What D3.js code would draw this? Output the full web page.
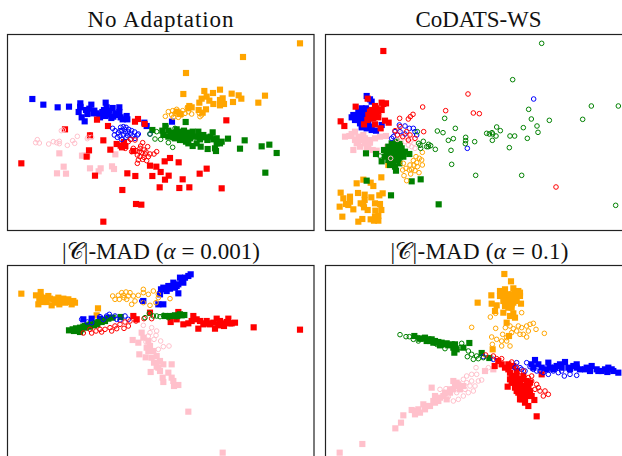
<!DOCTYPE html>
<html>
<head>
<meta charset="utf-8">
<style>
  html, body { margin: 0; padding: 0; background: #fff; overflow: hidden; }
  text { font-family: "Liberation Serif", serif; fill: #111; }
</style>
<script src="https://cdn.jsdelivr.net/npm/d3@7"></script>
</head>
<body>
<svg id="chart" width="622" height="456"></svg>
<script>
// valeurs, une liste par classe et par domaine (s = source, t = target)
const titles = ["No Adaptation", "CoDATS-WS", "|𝒞|-MAD (α = 0.001)", "|𝒞|-MAD (α = 0.1)"];
const classColors = { orange: "#ffa500", pink: "#ffc0cb", blue: "#0000ff", red: "#ff0000", green: "#008000" };

// No Adaptation
const a_blue_s = [[97,297],[130,314],[173,322],[207,320],[241,310],[236,336],[241,322],[245,352],[254,364],[258,330],[262,342],[274,314],[268,326],[283,332],[290,340],[298,346],[307,336],[317,308],[320,322],[316,348],[326,344],[334,354],[338,324],[346,340],[358,322],[352,345],[362,352],[358,336],[380,348],[368,358],[382,358],[433,368],[440,378],[516,365],[241,320],[280,340],[300,352],[312,330],[328,332],[340,350]];
const a_blue_t = [[338,385],[345,392],[343,405],[355,398],[362,382],[370,380],[378,382],[366,392],[376,396],[386,388],[395,392],[404,396],[412,405],[392,402],[382,406],[370,405],[360,408],[352,412],[365,418],[378,412],[392,418],[405,415],[415,402],[450,402],[374,388],[384,396],[360,392],[398,408]];
const a_red_s = [[64,490],[195,388],[291,359],[324,378],[270,406],[310,421],[267,451],[260,470],[331,449],[350,432],[362,437],[372,426],[376,438],[366,442],[405,365],[414,357],[434,372],[679,361],[400,453],[285,527],[382,520],[406,528],[367,570],[408,612],[424,614],[310,665],[450,497],[469,500],[494,484],[510,474],[536,487],[482,516],[457,528],[506,527],[495,539],[548,538],[479,562],[538,564],[568,562],[599,521],[620,506],[665,565]];
const a_red_t = [[428,428],[443,440],[420,445],[432,450],[408,452],[395,455],[425,458],[438,456],[450,462],[470,455],[462,462],[412,465],[420,470],[432,472],[445,470],[415,480],[428,478],[412,490],[440,482],[405,420],[392,418],[376,445],[270,405],[385,425],[422,438],[436,462],[400,445],[418,455]];
const a_pink_s = [[178,460],[246,467],[262,466],[254,467],[346,463],[191,500],[171,520],[198,521],[270,505],[302,505],[296,514],[336,499],[342,507]];
const a_pink_t = [[112,419],[107,428],[118,429],[146,432],[160,425],[170,428],[178,424],[178,431],[184,392],[190,390],[202,436],[218,422],[224,430],[232,409],[262,416],[275,412],[264,412]];
const a_green_s = [[457,390],[557,366],[487,392],[496,378],[490,405],[505,392],[512,405],[520,398],[530,388],[525,415],[540,395],[545,410],[552,392],[560,405],[558,425],[565,398],[570,415],[578,395],[578,438],[585,410],[595,395],[600,418],[602,440],[610,405],[622,420],[623,447],[638,397],[632,410],[645,445],[650,415],[648,453],[660,430],[665,425],[684,416],[734,421],[720,446],[785,439],[808,434],[830,459],[796,518],[540,420],[505,410],[520,412],[535,405],[550,420],[565,430],[590,430],[530,400],[545,400],[555,412],[575,408],[595,410],[615,412],[640,418],[650,430]];
const a_green_t = [[470,395],[450,402],[465,417],[482,418],[498,378],[505,428],[518,442],[525,385],[510,395]];
const a_orange_s = [[900,130],[729,171],[558,219],[550,282],[613,273],[639,279],[660,269],[695,281],[716,286],[724,296],[795,287],[775,308],[699,306],[620,290],[598,308],[628,302],[640,312],[660,316],[668,295],[662,308],[672,312],[605,296],[618,328],[596,330],[608,338],[568,318],[575,322],[565,325],[530,335],[540,342],[660,300]];
const a_orange_t = [[496,349],[505,335],[515,345],[525,340],[530,328],[545,345],[548,332],[555,340],[562,322],[575,342],[600,350],[605,345],[520,352],[535,352],[540,338],[565,335],[518,332],[598,340]];

// CoDATS-WS
const b_red_s = [[190,153],[143,296],[107,320],[62,364],[73,378],[132,373],[165,373],[182,385],[195,362],[206,368],[198,310],[185,308],[190,312],[165,318],[170,325],[155,330],[185,330],[145,345],[160,345],[175,352],[142,360],[160,355],[150,335],[175,335],[170,345],[160,335],[150,355]];
const b_blue_s = [[140,288],[150,298],[125,325],[138,325],[115,335],[95,352],[105,360],[118,350],[130,340],[120,370],[145,368],[125,382],[140,385],[155,390],[168,392],[185,375],[110,345],[100,345],[155,305],[130,360],[130,350],[125,345],[145,335],[115,360],[135,372],[150,380]];
const b_pink_s = [[75,410],[88,408],[105,395],[115,410],[100,450],[110,430],[120,420],[135,430],[140,442],[158,450],[170,452],[150,420],[165,415],[180,410],[198,408],[130,405],[105,420],[202,442],[150,428],[125,412],[95,402],[135,415],[145,440],[120,440],[115,425]];
const b_green_s = [[138,460],[168,462],[185,484],[192,450],[205,440],[215,430],[230,425],[240,432],[245,445],[255,455],[268,462],[240,470],[225,480],[210,470],[200,465],[215,455],[230,450],[240,455],[215,490],[225,500],[228,512],[238,490],[250,470],[205,480],[140,542],[275,544],[302,538],[213,586],[356,613],[228,465],[222,440],[210,495],[235,440],[250,462],[220,470],[235,480],[220,490],[210,460],[200,455],[195,470]];
const b_orange_s = [[184,532],[130,539],[152,548],[160,558],[110,550],[62,578],[70,595],[90,590],[114,579],[134,584],[154,592],[178,586],[188,580],[59,620],[78,612],[90,605],[100,628],[122,610],[134,600],[132,622],[143,630],[165,610],[180,612],[166,632],[184,630],[67,650],[127,657],[115,665],[152,658],[165,650],[175,648],[175,662],[162,662],[205,495],[85,615],[130,612]];
const b_green_t = [[665,130],[578,239],[626,328],[634,357],[688,361],[788,358],[814,318],[895,318],[374,355],[406,385],[352,393],[369,398],[385,421],[400,416],[437,412],[437,422],[436,431],[464,425],[393,451],[395,493],[467,526],[605,526],[887,616],[346,448],[500,400],[508,402],[516,398],[518,402],[530,381],[541,392],[528,408],[517,421],[570,408],[584,408],[610,383],[651,378],[654,397],[622,415],[568,443],[332,437],[326,433],[320,440],[310,424],[296,430],[302,445],[292,395],[300,436],[180,468],[325,440]];
const b_red_t = [[444,282],[377,332],[460,339],[478,341],[308,321],[279,343],[271,350],[265,357],[239,355],[311,395],[708,561],[240,380],[260,395],[270,405],[285,415],[248,410],[232,405],[265,420],[225,392]];
const b_blue_t = [[641,297],[442,445],[238,375],[255,378],[268,385],[280,385],[225,395],[220,410],[240,395],[290,405],[285,395],[255,402],[215,415]];
const b_pink_t = [[235,390],[245,398],[250,410],[262,410],[255,425],[270,425],[282,430],[275,440],[285,445],[240,415],[232,418],[212,475],[265,435],[272,415]];
const b_orange_t = [[307,457],[288,470],[298,475],[305,480],[280,482],[290,488],[307,495],[270,495],[250,490],[258,505],[275,508],[285,512],[297,518],[272,522],[252,527],[260,542],[248,510],[282,495],[292,500],[268,510]];

// |C|-MAD alpha = 0.001
const c_orange_s = [[64,173],[122,168],[108,178],[118,190],[130,185],[145,180],[160,190],[175,185],[190,188],[205,190],[220,195],[115,205],[140,198],[155,208],[178,205],[215,205],[225,200],[122,182],[135,195],[165,200],[195,200],[290,238],[294,217],[150,188],[170,195],[185,195],[200,195],[210,198],[130,198]];
const c_blue_s = [[572,115],[555,125],[540,125],[550,140],[535,145],[520,140],[525,155],[505,150],[490,155],[500,165],[483,160],[535,172],[480,175],[490,205],[475,205],[430,195],[250,250],[275,248],[300,248],[325,245],[545,135],[530,150],[515,150],[565,120],[510,158]];
const c_red_s = [[900,281],[761,274],[705,260],[685,248],[690,262],[672,270],[660,255],[650,248],[645,278],[630,265],[620,255],[610,265],[595,278],[590,250],[580,240],[575,255],[565,262],[550,265],[535,228],[530,250],[512,258],[525,240],[400,240],[410,250],[450,230],[640,260],[600,255],[660,268],[680,258],[695,262],[670,262],[655,265],[625,262],[615,262]];
const c_green_s = [[207,283],[218,280],[228,277],[240,288],[240,275],[250,272],[262,268],[272,265],[285,262],[295,258],[308,252],[338,245],[362,243],[315,255],[510,240],[525,238],[540,235],[553,237],[495,240],[255,270],[222,285],[232,282],[245,280],[258,275],[270,272],[282,268],[292,265],[305,258],[325,248],[520,240],[532,240],[545,238]];
const c_pink_s = [[410,250],[398,312],[415,320],[418,355],[437,364],[425,290],[430,305],[445,315],[450,330],[460,345],[470,360],[462,380],[480,375],[490,385],[470,392],[515,385],[452,408],[480,405],[505,410],[488,425],[515,425],[490,438],[520,435],[522,450],[535,447],[565,527],[668,650],[440,335],[455,365],[475,395],[445,345]];
const c_green_t = [[460,240],[448,232],[490,238],[470,240],[435,245],[505,245],[530,242],[480,242]];
const c_red_t = [[250,291],[275,291],[288,285],[300,280],[315,280],[330,275],[345,270],[360,265],[375,258],[385,270],[372,277],[335,285],[350,278],[390,255],[408,255],[432,248],[455,248],[270,280],[305,288]];
const c_blue_t = [[245,250],[262,258],[275,260],[300,242],[320,240],[328,235],[345,240],[375,240],[385,250],[350,250],[310,250],[360,252],[480,172],[425,195]];
const c_pink_t = [[430,268],[455,275],[470,285],[468,298],[482,315],[490,332],[507,330],[438,318],[445,300],[462,310],[450,290],[475,340]];
const c_orange_t = [[338,180],[345,190],[358,190],[365,170],[378,168],[390,170],[372,185],[385,180],[400,180],[415,178],[430,160],[430,170],[445,175],[460,165],[475,175],[395,205],[405,195],[430,200],[450,208],[468,200],[510,188],[475,185],[355,178],[370,178],[380,190]];

// |C|-MAD alpha = 0.1
const d_orange_s = [[553,114],[573,136],[580,157],[540,165],[555,160],[595,165],[600,170],[514,178],[540,180],[555,180],[575,175],[590,180],[560,190],[575,190],[473,200],[515,203],[603,203],[530,208],[565,205],[580,200],[555,210],[575,215],[525,225],[550,230],[580,232],[570,240],[585,245],[560,260],[567,300],[518,340],[545,170],[590,195],[550,195],[585,170],[565,175],[575,205],[565,215],[570,195],[555,175],[580,185],[560,200],[590,170],[600,180]];
const d_orange_t = [[511,243],[527,232],[605,230],[455,274],[527,277],[548,295],[556,275],[570,270],[580,278],[595,270],[605,275],[620,270],[640,262],[648,280],[625,285],[610,295],[600,295],[620,303],[673,292],[515,303],[530,310],[545,315],[560,315],[570,330],[517,325],[545,330],[560,305],[590,285],[575,290],[630,265]];
const d_green_s = [[283,300],[305,308],[315,305],[325,310],[335,310],[345,315],[355,318],[365,320],[380,322],[395,325],[405,325],[403,350],[430,335],[448,321],[485,351],[508,366],[320,315],[340,320],[360,328],[410,340],[300,308],[350,320],[370,325],[385,328],[400,335],[330,315]];
const d_green_t = [[240,296],[258,302],[268,302],[280,310],[295,315],[375,338],[425,322],[420,335],[445,345],[442,362],[455,355],[460,370],[475,368],[470,360],[490,365],[295,305],[350,325]];
const d_blue_s = [[895,410],[880,405],[865,395],[862,408],[845,405],[830,400],[815,390],[810,405],[795,400],[780,400],[770,385],[760,390],[745,395],[735,378],[725,395],[710,390],[700,400],[685,380],[680,400],[665,395],[645,372],[655,385],[640,395],[635,385],[690,395],[750,400],[705,395],[720,385],[770,395],[800,395],[835,405],[855,400],[875,400]];
const d_blue_t = [[590,380],[600,395],[615,405],[620,380],[640,400],[650,405],[670,410],[685,415],[700,405],[715,410],[733,420],[750,415],[770,418],[490,362],[520,370],[585,395],[605,400],[660,405],[725,405],[630,392]];
const d_red_s = [[524,390],[535,375],[545,385],[555,395],[565,385],[580,390],[590,405],[570,410],[585,420],[595,430],[610,420],[620,435],[563,452],[570,430],[580,440],[590,450],[600,460],[610,450],[625,445],[595,470],[610,475],[620,470],[615,490],[630,465],[625,510],[643,492],[650,541],[665,415],[600,440],[615,455],[575,420],[605,490],[590,440],[600,450],[580,430],[610,465],[600,475],[620,480],[615,500],[565,400],[590,420],[605,430],[620,455],[575,440],[585,455],[595,445],[630,440],[625,455],[635,480],[590,465],[600,490]];
const d_red_t = [[497,357],[530,368],[545,368],[575,378],[590,395],[610,405],[625,425],[635,435],[650,445],[655,455],[645,460],[660,465],[675,465],[685,475],[670,480],[635,420],[520,360]];
const d_pink_s = [[59,650],[127,624],[226,577],[243,560],[250,538],[275,522],[285,535],[295,520],[310,505],[315,520],[330,510],[345,480],[335,455],[345,500],[360,485],[375,470],[390,460],[400,435],[405,450],[420,460],[430,450],[355,495],[380,490],[495,405],[520,400],[300,530],[370,480],[415,445],[390,470],[400,460],[350,490],[320,510],[340,495],[285,525],[410,440]];
const d_pink_t = [[400,495],[415,490],[430,480],[445,470],[460,465],[468,395],[440,420],[455,415],[470,415],[485,432],[475,435],[455,435],[440,440],[435,460],[360,460],[378,458],[450,450],[465,450],[430,430],[505,395],[410,470],[385,482]];

const svg = d3.select("#chart");
const squareSize = 38;
const circleR = 2.3;

svg.append("defs").append("filter").attr("id", "soft")
  .append("feGaussianBlur").attr("stdDeviation", 0.3);

// une entrée par sous-graphique : origine et cadre en pixels
const panels = [
  { title: titles[0], ox: 0, oy: 0, w: 320, h: 236, frame: [7.5, 34.5, 306.5, 196], titleX: 160.5, titleY: 27, titleW: 146,
    s: { orange: a_orange_s, pink: a_pink_s, blue: a_blue_s, red: a_red_s, green: a_green_s },
    t: { orange: a_orange_t, pink: a_pink_t, blue: a_blue_t, red: a_red_t, green: a_green_t } },
  { title: titles[1], ox: 320, oy: 0, w: 302, h: 236, frame: [325.5, 34.5, 320, 196], titleX: 478.5, titleY: 27, titleW: 126,
    s: { orange: b_orange_s, pink: b_pink_s, blue: b_blue_s, red: b_red_s, green: b_green_s },
    t: { orange: b_orange_t, pink: b_pink_t, blue: b_blue_t, red: b_red_t, green: b_green_t } },
  { title: titles[2], ox: 0, oy: 236, w: 320, h: 220, frame: [7.5, 265.5, 306.5, 220], titleX: 161, titleY: 259, titleW: 198,
    s: { orange: c_orange_s, pink: c_pink_s, blue: c_blue_s, red: c_red_s, green: c_green_s },
    t: { orange: c_orange_t, pink: c_pink_t, blue: c_blue_t, red: c_red_t, green: c_green_t } },
  { title: titles[3], ox: 320, oy: 236, w: 302, h: 220, frame: [325.5, 265.5, 320, 220], titleX: 479.5, titleY: 259, titleW: 178,
    s: { orange: d_orange_s, pink: d_pink_s, blue: d_blue_s, red: d_red_s, green: d_green_s },
    t: { orange: d_orange_t, pink: d_pink_t, blue: d_blue_t, red: d_red_t, green: d_green_t } }
];

const square = d3.symbol().type(d3.symbolSquare).size(squareSize)();

panels.forEach(p => {
  const x = d3.scaleLinear().domain([0, p.w * 3]).range([p.ox, p.ox + p.w]);
  const y = d3.scaleLinear().domain([0, p.h * 3]).range([p.oy, p.oy + p.h]);
  const g = svg.append("g");

  // titre, le alpha en italique ; largeur calée sur l'image
  const label = g.append("text")
    .attr("x", p.titleX).attr("y", p.titleY)
    .attr("text-anchor", "middle")
    .attr("textLength", p.titleW)
    .attr("lengthAdjust", "spacing")
    .style("font-size", "23px");
  p.title.split(/(α)/).forEach(part => {
    label.append("tspan").text(part).style("font-style", part === "α" ? "italic" : null);
  });

  // cadre
  g.append("rect")
    .attr("x", p.frame[0]).attr("y", p.frame[1])
    .attr("width", p.frame[2]).attr("height", p.frame[3])
    .attr("fill", "none").attr("stroke", "#222").attr("stroke-width", 1.2);

  const marks = g.append("g").attr("filter", "url(#soft)");

  // carrés (source) d'abord, cercles (target) par-dessus
  Object.keys(classColors).forEach(c => {
    marks.selectAll(null).data(p.s[c]).enter().append("path")
      .attr("d", square)
      .attr("transform", d => `translate(${x(d[0])},${y(d[1])})`)
      .attr("fill", classColors[c]);
  });
  Object.keys(classColors).forEach(c => {
    marks.selectAll(null).data(p.t[c]).enter().append("circle")
      .attr("cx", d => x(d[0])).attr("cy", d => y(d[1]))
      .attr("r", circleR)
      .attr("fill", "none")
      .attr("stroke", classColors[c])
      .attr("stroke-width", 1);
  });
});
</script>
</body>
</html>
